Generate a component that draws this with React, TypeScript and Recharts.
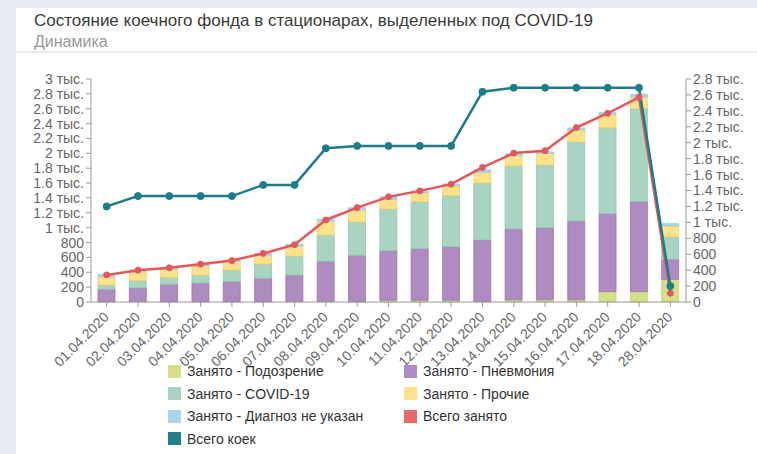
import React from "react";
import { ComposedChart, Bar, Line, XAxis, YAxis } from "recharts";

const dates = [
  "01.04.2020", "02.04.2020", "03.04.2020", "04.04.2020", "05.04.2020", "06.04.2020", "07.04.2020",
  "08.04.2020", "09.04.2020", "10.04.2020", "11.04.2020", "12.04.2020", "13.04.2020", "14.04.2020",
  "15.04.2020", "16.04.2020", "17.04.2020", "18.04.2020", "28.04.2020",
];

// stacked bars (left axis)
const suspected = [0, 8, 0, 0, 0, 0, 8, 8, 0, 25, 25, 25, 8, 30, 30, 30, 139, 139, 305];
const pneumonia = [171, 180, 238, 256, 273, 319, 355, 540, 628, 665, 692, 719, 826, 953, 970, 1060, 1049, 1211, 270];
const covid = [58, 99, 94, 107, 158, 192, 256, 354, 449, 562, 633, 687, 768, 847, 844, 1063, 1158, 1252, 304];
const other = [112, 117, 112, 126, 112, 122, 135, 184, 161, 130, 121, 134, 144, 139, 157, 162, 175, 157, 144];
const unknown = [32, 27, 18, 22, 18, 22, 22, 27, 31, 35, 19, 23, 31, 23, 18, 27, 27, 36, 31];

// lines (right axis)
const totalOccupied = [340, 400, 430, 475, 520, 610, 720, 1030, 1185, 1320, 1395, 1480, 1690, 1870, 1900, 2190, 2370, 2570, 110];
const totalBeds = [1200, 1330, 1330, 1330, 1330, 1470, 1470, 1930, 1960, 1960, 1960, 1960, 2640, 2690, 2690, 2690, 2690, 2690, 200];

const leftTicks = [0, 200, 400, 600, 800, 1000, 1200, 1400, 1600, 1800, 2000, 2200, 2400, 2600, 2800, 3000];
const rightTicks = [0, 200, 400, 600, 800, 1000, 1200, 1400, 1600, 1800, 2000, 2200, 2400, 2600, 2800];

const data = dates.map((d, i) => ({
  date: d,
  suspected: suspected[i],
  pneumonia: pneumonia[i],
  covid: covid[i],
  other: other[i],
  unknown: unknown[i],
  totalOccupied: totalOccupied[i],
  totalBeds: totalBeds[i],
}));

const font = "'Liberation Sans', Arial, sans-serif";

const fmt = (v: number) => (v >= 1000 ? `${v / 1000} тыс.` : `${v}`);

const legendItems = [
  { name: "Занято - Подозрение", color: "#d6df88" },
  { name: "Занято - Пневмония", color: "#b08cc4" },
  { name: "Занято - COVID-19", color: "#a9d4c1" },
  { name: "Занято - Прочие", color: "#fde28b" },
  { name: "Занято - Диагноз не указан", color: "#a9d6ea" },
  { name: "Всего занято", color: "#e9686a" },
  { name: "Всего коек", color: "#1f7f8b" },
];

const DateTick = (props: any) => {
  const { x, y, payload } = props;
  return (
    <g transform={`translate(${x + 3},${y + 9})`}>
      <text x={0} y={0} textAnchor="end" fontSize={14} fill="#666" fontFamily={font} transform="rotate(-45)">
        {payload.value}
      </text>
    </g>
  );
};

export default function App() {
  return (
    <div
      style={{
        position: "absolute",
        left: 0,
        top: 0,
        width: 757,
        height: 454,
        background: "#e6ebf2",
        overflow: "hidden",
        fontFamily: font,
      }}
    >
      <div style={{ position: "absolute", left: 16, top: 8, width: 741, height: 446, background: "#fff" }} />
      <div style={{ position: "absolute", left: 16, top: 51, width: 741, height: 2, background: "#e6ebf2" }} />
      <div style={{ position: "absolute", left: 34, top: 11, fontSize: 17, color: "#3a3a3a" }}>
        Состояние коечного фонда в стационарах, выделенных под COVID-19
      </div>
      <div style={{ position: "absolute", left: 34, top: 33, fontSize: 16, color: "#999" }}>Динамика</div>

      <div style={{ position: "absolute", left: 0, top: 0 }}>
        <ComposedChart width={757} height={454} data={data} margin={{ top: 79, right: 1, bottom: 82, left: 0 }}>
          <XAxis
            dataKey="date"
            interval={0}
            height={70}
            tick={<DateTick />}
            tickSize={5}
            stroke="#999"
            axisLine={{ stroke: "#999" }}
            tickLine={{ stroke: "#999" }}
          />
          <YAxis
            yAxisId="left"
            orientation="left"
            width={91}
            domain={[0, 3000]}
            ticks={leftTicks}
            interval={0}
            tickFormatter={fmt}
            tickSize={5}
            tick={{ fontSize: 14, fill: "#666", fontFamily: font }}
            stroke="#999"
          />
          <YAxis
            yAxisId="right"
            orientation="right"
            width={70}
            domain={[0, 2800]}
            ticks={rightTicks}
            interval={0}
            tickFormatter={fmt}
            tickSize={5}
            tick={{ fontSize: 14, fill: "#666", fontFamily: font }}
            stroke="#999"
          />
          <Bar yAxisId="left" dataKey="suspected" stackId="a" barSize={17} fill="#d6df88" stroke="#c6d070" strokeWidth={0.8} isAnimationActive={false} />
          <Bar yAxisId="left" dataKey="pneumonia" stackId="a" barSize={17} fill="#ae8bc1" stroke="#9a72b2" strokeWidth={0.8} isAnimationActive={false} />
          <Bar yAxisId="left" dataKey="covid" stackId="a" barSize={17} fill="#a9d4c1" stroke="#92c6ae" strokeWidth={0.8} isAnimationActive={false} />
          <Bar yAxisId="left" dataKey="other" stackId="a" barSize={17} fill="#fde28b" stroke="#f3d26c" strokeWidth={0.8} isAnimationActive={false} />
          <Bar yAxisId="left" dataKey="unknown" stackId="a" barSize={17} fill="#a9d6ea" stroke="#93cbe3" strokeWidth={0.8} isAnimationActive={false} />
          <Line
            yAxisId="right"
            type="linear"
            dataKey="totalOccupied"
            stroke="#e4575a"
            strokeWidth={2.5}
            dot={{ r: 3, fill: "#e4575a", stroke: "#e4575a", strokeWidth: 1 }}
            isAnimationActive={false}
          />
          <Line
            yAxisId="right"
            type="linear"
            dataKey="totalBeds"
            stroke="#1c7d89"
            strokeWidth={2.5}
            dot={{ r: 3.5, fill: "#1c7d89", stroke: "#1c7d89", strokeWidth: 1 }}
            isAnimationActive={false}
          />
        </ComposedChart>
      </div>

      {legendItems.map((item, i) => {
        const col = i % 2;
        const row = Math.floor(i / 2);
        return (
          <div
            key={item.name}
            style={{
              position: "absolute",
              left: col === 0 ? 168 : 404,
              top: 363 + row * 22.5,
              display: "flex",
              alignItems: "center",
              fontSize: 14,
              color: "#333",
              whiteSpace: "nowrap",
            }}
          >
            <span style={{ width: 13, height: 13, background: item.color, marginRight: 6, display: "inline-block" }} />
            {item.name}
          </div>
        );
      })}
    </div>
  );
}
